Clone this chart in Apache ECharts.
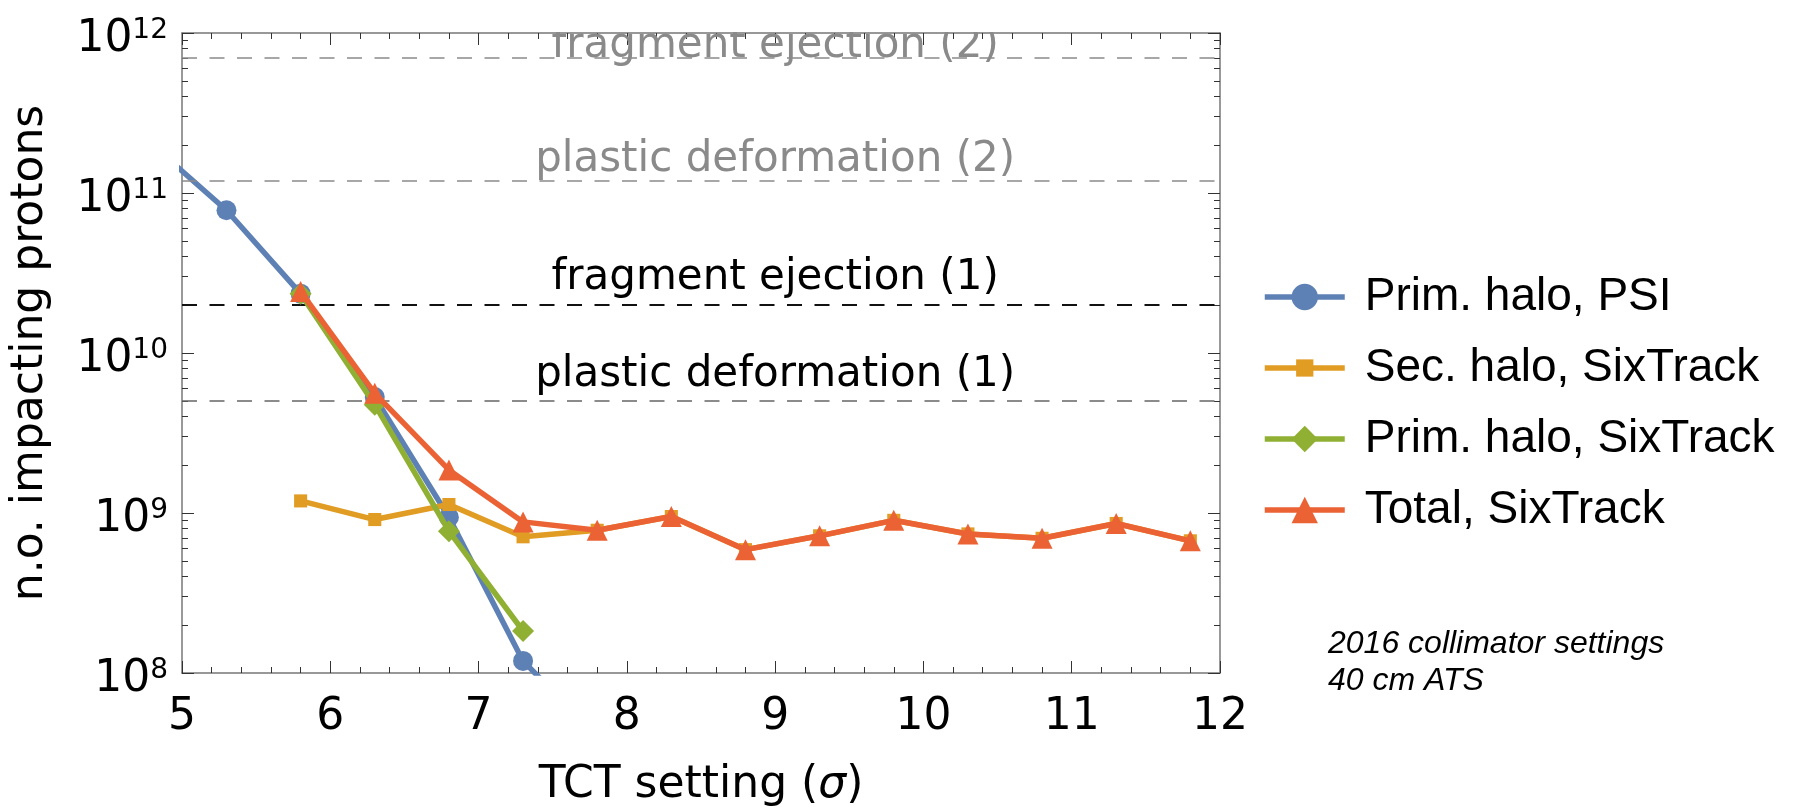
<!DOCTYPE html>
<html>
<head>
<meta charset="utf-8">
<script src="https://cdn.jsdelivr.net/npm/echarts@6/dist/echarts.min.js"></script>
<style>
html, body { margin: 0; padding: 0; background: #fff; }
#chart { width: 1802px; height: 808px; }
</style>
</head>
<body>
<div id="chart"></div>
<script>
// TCT setting (sigma) and number of impacting protons for each scenario
const tctPsi = [4.8, 5.3, 5.8, 6.3, 6.8, 7.3, 7.8];
const primHaloPsi = [2.0e11, 7.8e10, 2.35e10, 5.3e9, 9.4e8, 1.19e8, 4.0e7];

const tctSixTrack = [5.8, 6.3, 6.8, 7.3, 7.8, 8.3, 8.8, 9.3, 9.8, 10.3, 10.8, 11.3, 11.8];
const secHaloSixTrack = [1.19e9, 9.1e8, 1.13e9, 7.1e8, 7.8e8, 9.5e8, 5.9e8, 7.2e8, 9.0e8, 7.4e8, 6.95e8, 8.6e8, 6.7e8];
const totalSixTrack = [2.42e10, 5.6e9, 1.86e9, 8.8e8, 7.8e8, 9.5e8, 5.9e8, 7.2e8, 9.0e8, 7.4e8, 6.95e8, 8.6e8, 6.7e8];

const tctPrimSixTrack = [5.8, 6.3, 6.8, 7.3];
const primHaloSixTrack = [2.35e10, 4.75e9, 7.7e8, 1.83e8];

const seriesNames = ['Prim. halo, PSI', 'Sec. halo, SixTrack', 'Prim. halo, SixTrack', 'Total, SixTrack'];

// Damage thresholds of the collimator
const thresholdNames = ['fragment ejection (2)', 'plastic deformation (2)', 'fragment ejection (1)', 'plastic deformation (1)'];
const thresholdValues = [7e11, 1.2e11, 2e10, 5e9];
const thresholdLabelX = 9;

// Axis ticks
const xTicks = [5, 6, 7, 8, 9, 10, 11, 12];
const yMajorTicks = [1e8, 1e9, 1e10, 1e11, 1e12];
const yMinorMantissas = [2, 3, 4, 5, 6, 7, 8, 9];

const annotation = ['2016 collimator settings', '40 cm ATS'];

const zip = (xs, ys) => xs.map((x, i) => [x, ys[i]]);
const yMinorTicks = yMajorTicks.slice(0, -1).flatMap(d => yMinorMantissas.map(m => m * d));

const FONT = 'DejaVu Sans';
const COLORS = ['#5E81B5', '#E19C24', '#8FB032', '#EB6235'];
// small square centred in a larger box, so it renders smaller than the other markers
const SQUARE = 'path://M0,0M26,26M4.5,4.5h17v17h-17z';

const frameLine = { show: true, lineStyle: { color: '#777', width: 1.5 } };
const tickStyle = { color: '#333', width: 1 };

function xAxisDef(position, labels) {
  return {
    type: 'value', position: position,
    min: xTicks[0], max: xTicks[xTicks.length - 1], interval: 1,
    axisLine: frameLine,
    axisTick: { show: true, inside: true, length: 12, lineStyle: tickStyle },
    minorTick: { show: true, splitNumber: 5, length: 6, lineStyle: tickStyle },
    splitLine: { show: false },
    axisLabel: labels ? { show: true, margin: 23, color: '#000', fontFamily: FONT, fontSize: 44 } : { show: false },
    name: labels ? '{n|TCT setting (}{i|σ}{n|)}' : '',
    nameLocation: 'middle', nameGap: 91, nameMoveOverlap: false,
    nameTextStyle: labels ? {
      rich: {
        n: { fontFamily: FONT, fontSize: 44, color: '#000' },
        i: { fontFamily: FONT, fontSize: 44, color: '#000', fontStyle: 'italic' }
      }
    } : {}
  };
}

function yAxisDef(position, major, labels) {
  const ax = {
    type: 'log', logBase: 10, position: position,
    min: yMajorTicks[0], max: yMajorTicks[yMajorTicks.length - 1],
    axisLine: major ? frameLine : { show: false },
    splitLine: { show: false },
    axisLabel: { show: false }
  };
  if (major) {
    ax.axisTick = { show: true, inside: true, length: 12, lineStyle: tickStyle, customValues: yMajorTicks };
  } else {
    ax.axisTick = { show: true, inside: true, length: 6, lineStyle: tickStyle, customValues: yMinorTicks };
  }
  if (labels) {
    ax.axisLabel = {
      show: true, margin: 14, customValues: yMajorTicks,
      formatter: v => '{b|10}{s|' + Math.round(Math.log10(v)) + '}',
      rich: {
        b: { fontFamily: FONT, fontSize: 44, color: '#000', padding: [14, 0, 0, 0] },
        s: { fontFamily: FONT, fontSize: 28, color: '#000', padding: [12, 0, 16, 0] }
      }
    };
    ax.name = 'n.o. impacting protons';
    ax.nameLocation = 'middle';
    ax.nameGap = 129;
    ax.nameMoveOverlap = false;
    ax.nameTextStyle = { fontFamily: FONT, fontSize: 44, color: '#000' };
  }
  return ax;
}

function lineSeries(i, xs, ys, symbol, size) {
  return {
    type: 'line', name: seriesNames[i],
    data: zip(xs, ys),
    xAxisIndex: 0, yAxisIndex: 0,
    symbol: symbol, symbolSize: size, showSymbol: true,
    clip: true,
    lineStyle: { color: COLORS[i], width: 5.5 },
    itemStyle: { color: COLORS[i] },
    z: 3 + i
  };
}

const thresholdLineColors = ['#8a8a8a', '#8a8a8a', '#111', '#666'];
const thresholdLineWidths = [1.5, 1.5, 2, 1.5];
const thresholdTextColors = ['#8a8a8a', '#8a8a8a', '#000', '#000'];
const thresholdLabelDistance = [-9, -1, 6, 5];

const option = {
  animation: false,
  backgroundColor: '#fff',
  grid: { left: 182, top: 33, width: 1038, height: 640, show: false, outerBoundsMode: 'none', containLabel: false },
  xAxis: [xAxisDef('bottom', true), xAxisDef('top', false)],
  yAxis: [
    yAxisDef('left', true, true),
    yAxisDef('right', true, false),
    yAxisDef('left', false, false),
    yAxisDef('right', false, false)
  ],
  legend: {
    orient: 'vertical', left: 1257, top: 269,
    itemWidth: 80, itemHeight: 33, itemGap: 25,
    selectedMode: false,
    data: seriesNames,
    lineStyle: { width: 5.5 },
    textStyle: { fontFamily: 'Liberation Sans', fontSize: 46, color: '#000', padding: [0, 0, 0, 15] }
  },
  series: [
    {
      type: 'scatter', name: 'thresholds', silent: true,
      xAxisIndex: 0, yAxisIndex: 0, symbolSize: 0, z: 1,
      itemStyle: { opacity: 1 },
      data: thresholdValues.map((v, i) => ({
        value: [thresholdLabelX, v],
        label: { color: thresholdTextColors[i], distance: thresholdLabelDistance[i] }
      })),
      label: {
        show: true, position: 'top', opacity: 1,
        formatter: p => thresholdNames[p.dataIndex],
        fontFamily: FONT, fontSize: 42
      },
      markLine: {
        silent: true, symbol: ['none', 'none'],
        label: { show: false },
        data: thresholdValues.map((v, i) => ({
          yAxis: v,
          lineStyle: { color: thresholdLineColors[i], width: thresholdLineWidths[i], type: [15, 12.5] }
        }))
      }
    },
    lineSeries(0, tctPsi, primHaloPsi, 'circle', 20),
    lineSeries(1, tctSixTrack, secHaloSixTrack, SQUARE, 20),
    lineSeries(2, tctPrimSixTrack, primHaloSixTrack, 'diamond', 22),
    lineSeries(3, tctSixTrack, totalSixTrack, 'triangle', 21)
  ],
  graphic: [
    // threshold text is cut off at the top of the frame
    { type: 'rect', shape: { x: 184, y: 0, width: 1035, height: 32 }, style: { fill: '#fff' }, z: 100 },
    {
      type: 'text', x: 1328, y: 626, z: 100,
      style: {
        text: annotation.join('\n'), font: 'italic 32px "Liberation Sans"',
        fill: '#000', lineHeight: 37, verticalAlign: 'top'
      }
    }
  ]
};

const chart = echarts.init(document.getElementById('chart'), null, { renderer: 'canvas' });
chart.setOption(option);
</script>
</body>
</html>
